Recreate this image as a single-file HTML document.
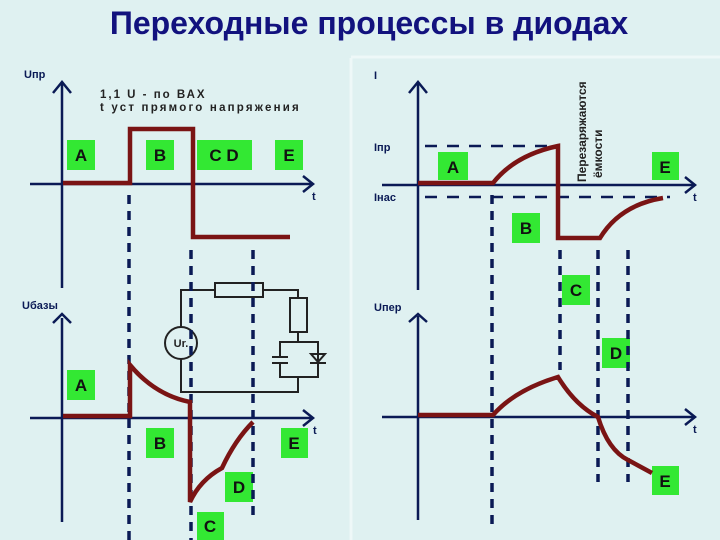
<!DOCTYPE html>
<html><head><meta charset="utf-8"><style>
html,body{margin:0;padding:0;background:#dff1f1}
svg{display:block}
text{font-family:"Liberation Sans",sans-serif;font-weight:bold}
</style></head><body>
<svg width="720" height="540" viewBox="0 0 720 540" xmlns="http://www.w3.org/2000/svg">
<rect width="720" height="540" fill="#dff1f1"/>
<line x1="351" y1="58" x2="351" y2="540" stroke="#eef8f8" stroke-width="3"/>
<line x1="351" y1="57" x2="720" y2="57" stroke="#eef8f8" stroke-width="3"/>
<text x="369" y="34" font-size="32" fill="#12127e" text-anchor="middle">Переходные процессы в диодах</text>

<g fill="#33e833">
<rect x="67" y="140" width="28" height="30"/><rect x="146" y="140" width="28" height="30"/>
<rect x="197" y="140" width="55" height="30"/><rect x="275" y="140" width="28" height="30"/>
<rect x="67" y="370" width="28" height="30"/><rect x="146" y="428" width="28" height="30"/>
<rect x="281" y="428" width="27" height="30"/><rect x="225" y="472" width="28" height="30"/>
<rect x="197" y="512" width="27" height="28"/>
<rect x="438" y="152" width="30" height="28"/><rect x="652" y="152" width="27" height="28"/>
<rect x="512" y="213" width="28" height="30"/><rect x="562" y="275" width="28" height="30"/>
<rect x="602" y="338" width="28" height="30"/><rect x="652" y="466" width="27" height="29"/>
</g>
<g font-size="17" fill="#111" text-anchor="middle">
<text x="81" y="161">A</text><text x="160" y="161">B</text><text x="224" y="161">C  D</text><text x="289" y="161">E</text>
<text x="81" y="391">A</text><text x="160" y="449">B</text><text x="294" y="449">E</text><text x="239" y="493">D</text><text x="210" y="532">C</text>
<text x="453" y="173">A</text><text x="665" y="173">E</text><text x="526" y="234">B</text><text x="576" y="296">C</text><text x="616" y="359">D</text><text x="665" y="487">E</text>
</g>

<g stroke="#222" stroke-width="2" fill="none">
<polyline points="215,290 181,290 181,392 298,392 298,377"/>
<polyline points="263,290 298,290 298,298"/>
<rect x="215" y="283" width="48" height="14" fill="#dff1f1"/>
<rect x="290" y="298" width="17" height="34"/>
<polyline points="298,332 298,342"/>
<polyline points="280,357 280,342 318,342 318,377 280,377 280,363"/>
<line x1="272" y1="357" x2="288" y2="357"/><line x1="272" y1="363" x2="288" y2="363"/>
<polygon points="311,354 325,354 318,362"/><line x1="310" y1="363" x2="326" y2="363"/>
<circle cx="181" cy="343" r="16" fill="#dff1f1"/>
</g>
<text x="181" y="347" font-size="11" fill="#222" text-anchor="middle">Ur.</text>

<g stroke="#0a1a55" stroke-width="3.5" stroke-dasharray="9,7" fill="none">
<line x1="129" y1="195" x2="129" y2="540"/>
<line x1="191" y1="250" x2="191" y2="540"/>
<line x1="253" y1="250" x2="253" y2="520"/>
<line x1="492" y1="195" x2="492" y2="530"/>
<line x1="560" y1="250" x2="560" y2="370"/>
<line x1="598" y1="250" x2="598" y2="482"/>
<line x1="628" y1="250" x2="628" y2="482"/>
</g>
<g stroke="#0a1a55" stroke-width="2.5" stroke-dasharray="12,10" fill="none">
<line x1="425" y1="146" x2="556" y2="146"/>
<line x1="425" y1="197" x2="670" y2="197"/>
</g>

<g stroke="#0a1a55" stroke-width="2.5" fill="none">
<line x1="62" y1="84" x2="62" y2="288"/><polyline points="53,93 62,82 71,93"/>
<line x1="30" y1="184" x2="312" y2="184"/><polyline points="303,176 313,184 303,192"/>
<line x1="62" y1="318" x2="62" y2="522"/><polyline points="53,323 62,314 71,323"/>
<line x1="30" y1="418" x2="312" y2="418"/><polyline points="303,410 313,418 303,426"/>
<line x1="418" y1="84" x2="418" y2="290"/><polyline points="409,93 418,82 427,93"/>
<line x1="382" y1="185" x2="695" y2="185"/><polyline points="685,177 695,185 685,193"/>
<line x1="418" y1="316" x2="418" y2="520"/><polyline points="409,322 418,314 427,322"/>
<line x1="382" y1="417" x2="695" y2="417"/><polyline points="685,409 695,417 685,425"/>
</g>
<g font-size="11" fill="#0a1a55">
<text x="24" y="78">Uпр</text><text x="312" y="200">t</text>
<text x="22" y="309">Uбазы</text><text x="313" y="434">t</text>
<text x="374" y="79">I</text><text x="374" y="151">Iпр</text><text x="374" y="201">Iнас</text><text x="693" y="201">t</text>
<text x="374" y="311">Uпер</text><text x="693" y="433">t</text>
</g>
<text x="100" y="98" font-size="11.5" fill="#222" letter-spacing="2">1,1 U - по ВАХ</text>
<text x="100" y="111" font-size="11.5" fill="#222" letter-spacing="2.2">t уст прямого напряжения</text>
<text transform="translate(586,182) rotate(-90)" font-size="12" fill="#222">Перезаряжаются</text>
<text transform="translate(602,178) rotate(-90)" font-size="12" fill="#222">ёмкости</text>

<g stroke="#7a1414" stroke-width="4.5" fill="none" stroke-linejoin="miter">
<polyline points="63,183 130,183 130,129 193,129 193,237 290,237"/>
<path d="M63,416 L130,416 L130,365 Q155,395 190,402 L190,502 Q200,480 222,468 Q235,440 253,422"/>
<path d="M418,183 L493,183 Q515,155 558,146 L558,238 L600,238 Q620,205 663,198"/>
<path d="M418,415 L493,415 Q515,390 558,377 Q575,405 598,417 Q608,450 628,460 L652,473"/>
</g>
</svg>
</body></html>
